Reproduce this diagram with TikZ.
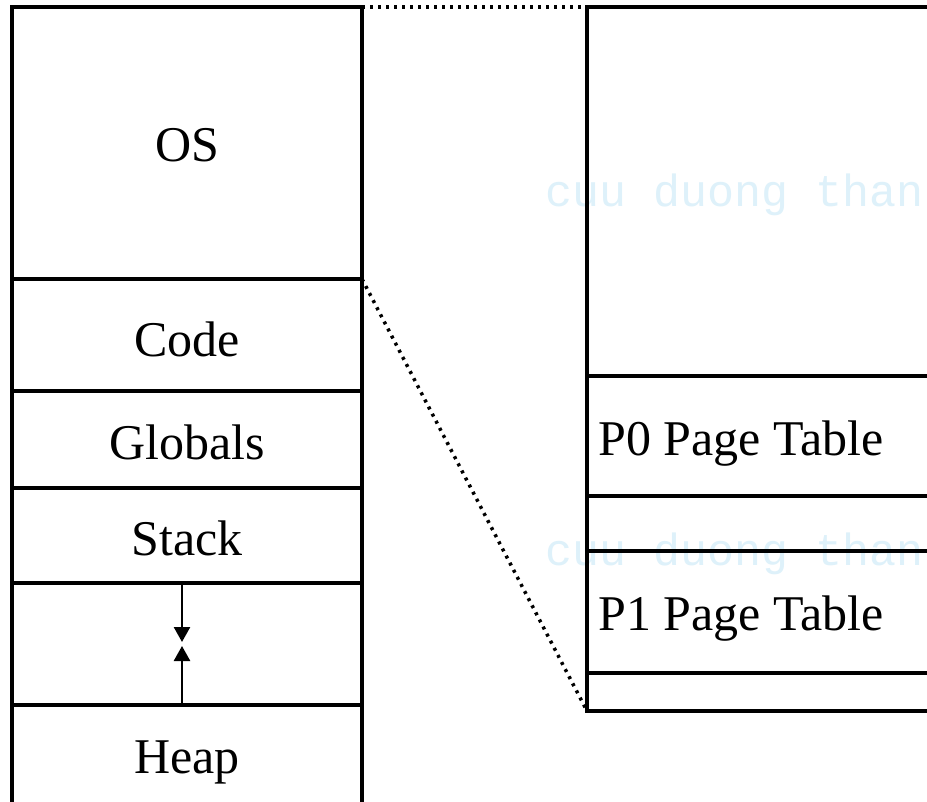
\documentclass[tikz,border=0pt]{standalone}
\usepackage{fontspec}
\setmainfont{Liberation Serif}
\newfontfamily\wmfont{Liberation Mono}
\usepackage{xcolor}
\usetikzlibrary{arrows.meta}
\definecolor{wmblue}{RGB}{222,241,250}
\tikzset{
  wall/.style={line width=4pt},
  zoomline/.style={line width=3.5pt, dash pattern=on 3pt off 5pt},
  growarrow/.style={line width=2.5pt, -{Triangle[width=16pt,length=15pt]}},
  lbl/.style={anchor=base, inner sep=0pt, font=\fontsize{50}{60}\selectfont},
  wm/.style={anchor=base west, inner sep=0pt, text=wmblue, font=\wmfont\fontsize{45}{54}\selectfont}
}
\begin{document}
\begin{tikzpicture}[x=1pt,y=-1pt]
\clip (0,0) rectangle (927,802);
\fill[white] (0,0) rectangle (927,802);

\node[wm] (wmA) at (545,207) {cuu duong than};
\node[wm] (wmB) at (545,565) {cuu duong than};

% process address space
\draw[wall] (12,802)--(12,7)--(362,7)--(362,802);
\draw[wall] (12,279)--(362,279);
\draw[wall] (12,391)--(362,391);
\draw[wall] (12,488)--(362,488);
\draw[wall] (12,583)--(362,583);
\draw[wall] (12,705)--(362,705);

\node[lbl] (os) at (187,162) {OS};
\node[lbl] (code) at (187,357) {Code};
\node[lbl] (globals) at (187,460) {Globals};
\node[lbl] (stack) at (187,555) {Stack};
\node[lbl] (heap) at (187,773) {Heap};

\coordinate (stackTop) at (182,583);
\coordinate (stackTip) at (182,642);
\coordinate (heapTop) at (182,705);
\coordinate (heapTip) at (182,646);
\draw[growarrow] (stackTop)--(stackTip);
\draw[growarrow] (heapTop)--(heapTip);

% OS region, zoomed
\draw[wall] (927,7)--(587,7)--(587,711)--(927,711);
\draw[wall] (587,376)--(927,376);
\draw[wall] (587,496)--(927,496);
\draw[line width=3.5pt] (587,551)--(927,551);
\draw[line width=3.5pt] (587,673)--(927,673);

\node[lbl] (pt0) at (741,455) {P0 Page Table};
\node[lbl] (pt1) at (741,630) {P1 Page Table};

\coordinate (osTR) at (362,7);
\coordinate (codeTR) at (362,279);
\coordinate (zoomTL) at (587,7);
\coordinate (zoomBL) at (587,711);
\draw[zoomline] (osTR)--(zoomTL);
\draw[zoomline] (codeTR)--(zoomBL);
\end{tikzpicture}
\end{document}
